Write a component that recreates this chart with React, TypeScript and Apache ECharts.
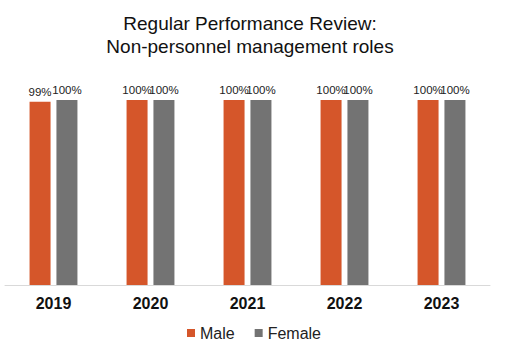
import React, { useEffect, useRef } from "react";
import * as echarts from "echarts";

const categories = ["2019", "2020", "2021", "2022", "2023"];
const maleValues = [99, 100, 100, 100, 100];
const femaleValues = [100, 100, 100, 100, 100];
const titleLines = ["Regular Performance Review:", "Non-personnel management roles"];

const FONT = "Liberation Sans";

export default function App() {
  const ref = useRef<HTMLDivElement>(null);
  useEffect(() => {
    const chart = echarts.init(ref.current!, null, { renderer: "svg" });
    const label = {
      show: true,
      position: "top",
      distance: 4,
      formatter: "{c}%",
      color: "#222",
      fontSize: 11.5,
      fontFamily: FONT,
    };
    chart.setOption({
      animation: false,
      backgroundColor: "#fff",
      title: {
        text: titleLines.join("\n"),
        left: 245,
        textAlign: "center",
        top: 7,
        textStyle: {
          fontSize: 19,
          fontWeight: "normal",
          color: "#111",
          lineHeight: 23,
          fontFamily: FONT,
        },
      },
      legend: {
        data: ["Male", "Female"],
        top: 320,
        left: "center",
        itemWidth: 8,
        itemHeight: 8,
        itemGap: 20,
        icon: "rect",
        textStyle: {
          fontSize: 16,
          color: "#222",
          fontFamily: FONT,
        },
      },
      grid: { left: 5, right: 18, top: 100, bottom: 75, containLabel: false },
      xAxis: {
        type: "category",
        data: categories,
        axisLine: { lineStyle: { color: "#d9d9d9" } },
        axisTick: { show: false },
        axisLabel: {
          fontSize: 16,
          fontWeight: "bold",
          color: "#111",
          margin: 10,
          fontFamily: FONT,
        },
      },
      yAxis: {
        type: "value",
        min: 0,
        max: 100,
        show: false,
        splitLine: { show: false },
      },
      series: [
        {
          name: "Male",
          type: "bar",
          data: maleValues,
          barWidth: 21,
          barGap: "28%",
          itemStyle: { color: "#D5562A" },
          label,
        },
        {
          name: "Female",
          type: "bar",
          data: femaleValues,
          barWidth: 21,
          itemStyle: { color: "#737373" },
          label,
        },
      ],
    });
    return () => chart.dispose();
  }, []);
  return <div ref={ref} style={{ width: 508, height: 360, position: "absolute", left: 0, top: 0 }} />;
}
